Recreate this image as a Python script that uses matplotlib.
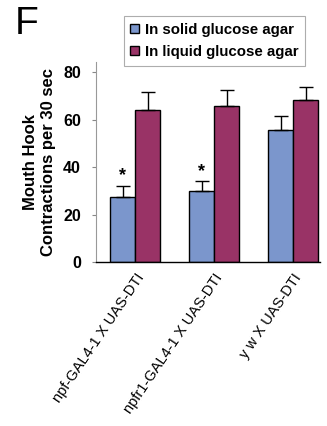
import matplotlib
matplotlib.use("Agg")
import matplotlib.pyplot as plt
import numpy as np
from matplotlib.patches import Patch

plt.rcParams["font.family"] = ["Liberation Sans", "DejaVu Sans"]

genotypes = ["npf-GAL4-1 X UAS-DTI", "npfr1-GAL4-1 X UAS-DTI", "y w X UAS-DTI"]
solid_mean = [27.5, 30.0, 55.7]
solid_err = [4.8, 4.1, 5.9]
liquid_mean = [64.1, 65.8, 68.3]
liquid_err = [7.7, 7.0, 5.6]
significant = [True, True, False]
series_names = ["In solid glucose agar", "In liquid glucose agar"]
yticks = [0, 20, 40, 60, 80]

blue = "#7b96cc"
red = "#993366"

fig = plt.figure(figsize=(3.27, 4.26), dpi=100)
ax = fig.add_axes([0.294, 0.384, 0.685, 0.47])

x = np.arange(len(genotypes))
w = 0.316
ax.bar(x - w / 2, solid_mean, w, color=blue, edgecolor="black", linewidth=1.0, zorder=2)
ax.bar(x + w / 2, liquid_mean, w, color=red, edgecolor="black", linewidth=1.0, zorder=2)
# one-sided error bars
ax.errorbar(x - w / 2, solid_mean, yerr=[np.zeros(3), solid_err], fmt="none",
            ecolor="black", elinewidth=1.0, capsize=5, capthick=1.0, zorder=3)
ax.errorbar(x + w / 2, liquid_mean, yerr=[np.zeros(3), liquid_err], fmt="none",
            ecolor="black", elinewidth=1.0, capsize=5, capthick=1.0, zorder=3)

for i, sig in enumerate(significant):
    if sig:
        ax.text(x[i] - w / 2, solid_mean[i] + solid_err[i] + 0.5, "*",
                ha="center", va="bottom", fontsize=13, fontweight="bold")

ax.set_xlim(-0.494, 2.342)
ax.set_ylim(0, 84.3)
ax.set_yticks(yticks)
ax.set_yticklabels([str(t) for t in yticks], fontsize=11.5, fontweight="bold")
ax.set_xticks(x)
ax.set_xticklabels(genotypes, rotation=56, ha="right", rotation_mode="anchor",
                   fontsize=10.5)
ax.tick_params(axis="x", length=0, pad=6)
ax.tick_params(axis="y", length=3, width=0.8, color="#888888", pad=8)
for s in ["top", "right"]:
    ax.spines[s].set_visible(False)
ax.spines["left"].set_color("#999999")
ax.spines["bottom"].set_linewidth(1.0)

ax.set_ylabel("Mouth Hook\nContractions per 30 sec", fontsize=12,
              fontweight="bold", labelpad=5, linespacing=1.25)

handles = [Patch(facecolor=blue, edgecolor="black"),
           Patch(facecolor=red, edgecolor="black")]
leg = fig.legend(handles, series_names, loc="upper left",
                 bbox_to_anchor=(0.355, 0.98), frameon=True, fancybox=False,
                 edgecolor="#999999", handlelength=0.6, handleheight=0.6,
                 handletextpad=0.35, borderpad=0.45, labelspacing=0.55,
                 prop={"size": 10.8, "weight": "bold"})
leg.get_frame().set_linewidth(0.8)

fig.text(0.045, 0.985, "F", fontsize=28, ha="left", va="top")

fig.savefig("out.png", dpi=100)
